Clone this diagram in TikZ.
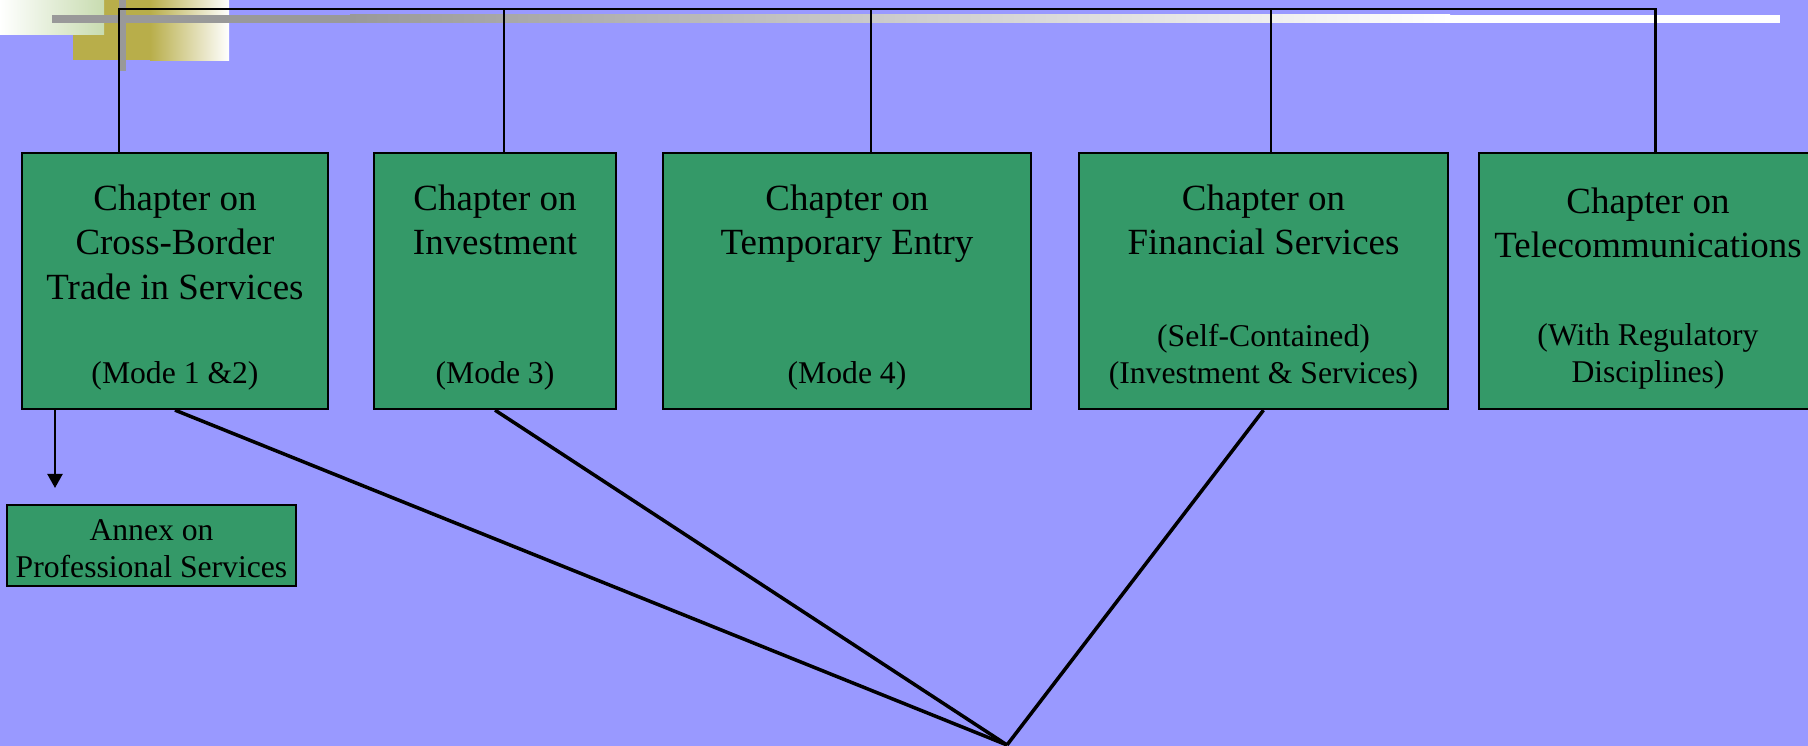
\documentclass[tikz,border=0pt]{standalone}
\usepackage{fontspec}
\setmainfont{Liberation Serif}
\usetikzlibrary{positioning,arrows.meta}
\definecolor{slidebg}{RGB}{153,153,255}
\definecolor{chgreen}{RGB}{52,153,104}
\definecolor{olive}{RGB}{184,174,74}
\definecolor{palegreen}{RGB}{200,220,176}
\definecolor{bargray}{RGB}{153,153,153}
\tikzset{
  chapter/.style={draw, fill=chgreen, line width=0.6pt, minimum height=2.56cm, inner sep=0pt},
  title/.style={align=center, inner sep=0pt, font=\fontsize{10.5}{12.66}\selectfont},
  mode/.style={align=center, inner sep=0pt, font=\fontsize{9}{10.53}\selectfont},
  feed/.style={line width=0.6pt},
  merge/.style={line width=1pt},
}
\begin{document}
\begin{tikzpicture}[x=0.01cm, y=-0.01cm]
% slide background
\fill[slidebg] (0,0) rectangle (1808,746);
\useasboundingbox (0,0) rectangle (1808,746);
% corner ornament and rule
\fill[olive] (73,0) rectangle (150,60);
\shade[left color=olive, right color=white] (150,0) rectangle (229,61);
\shade[left color=white, right color=palegreen] (0,0) rectangle (104,35);
\fill[bargray] (52,15) rectangle (350,23);
\shade[left color=bargray, right color=white] (350,15) rectangle (1450,23);
\fill[white] (1450,15) rectangle (1780,23);
\fill[bargray] (119,0) rectangle (126,71);

% chapters
\node[chapter, minimum width=3.05cm] (cross) at (175,281) {};
\node[chapter, minimum width=2.41cm] (invest) at (495,281) {};
\node[chapter, minimum width=3.68cm] (temp) at (847,281) {};
\node[chapter, minimum width=3.69cm] (fin) at (1263.5,281) {};
\node[chapter, minimum width=3.38cm] (tele) at (1648,281) {};

\node[title, below=3.2mm of cross.north] {Chapter on\\Cross-Border\\Trade in Services};
\node[title, below=3.2mm of invest.north] {Chapter on\\Investment};
\node[title, below=3.2mm of temp.north] {Chapter on\\Temporary Entry};
\node[title, below=3.2mm of fin.north] {Chapter on\\Financial Services};
\node[title, below=3.5mm of tele.north] {Chapter on\\Telecommunications};

\node[mode, above=1.9mm of cross.south] {(Mode 1 \&2)};
\node[mode, above=1.9mm of invest.south] {(Mode 3)};
\node[mode, above=1.9mm of temp.south] {(Mode 4)};
\node[mode, above=1.9mm of fin.south] {(Self-Contained)\\(Investment \& Services)};
\node[mode, above=2.0mm of tele.south] {(With Regulatory\\Disciplines)};

\node[chapter, minimum width=2.89cm, minimum height=0.81cm] (annex) at (151.5,545.5) {};
\node[mode] (annex-text) at ([yshift=-0.3mm]annex.center) {Annex on\\Professional Services};

% links from the top rule
\coordinate (top-cross) at (119,9);
\coordinate (top-tele) at (1655.5,9);
\draw[feed] (top-cross |- cross.north) -- (top-cross) -- (top-tele) -- (top-tele |- tele.north);
\foreach \x/\n in {503.6/invest, 871/temp, 1271/fin}{
  \coordinate (top-\n) at (\x,9);
  \draw[feed] (top-\n) -- (top-\n |- \n.north);
}

% annex arrow
\coordinate (annex-in) at (55,488);
\draw[feed, -{Triangle[length=1.4mm, width=1.5mm]}] (annex-in |- cross.south) -- (annex-in);

% lines to the meeting point
\coordinate (meet) at (1007,745);
\draw[merge] (cross.south) -- (meet);
\draw[merge] (invest.south) -- (meet);
\draw[merge] (fin.south) -- (meet);
\end{tikzpicture}
\end{document}
